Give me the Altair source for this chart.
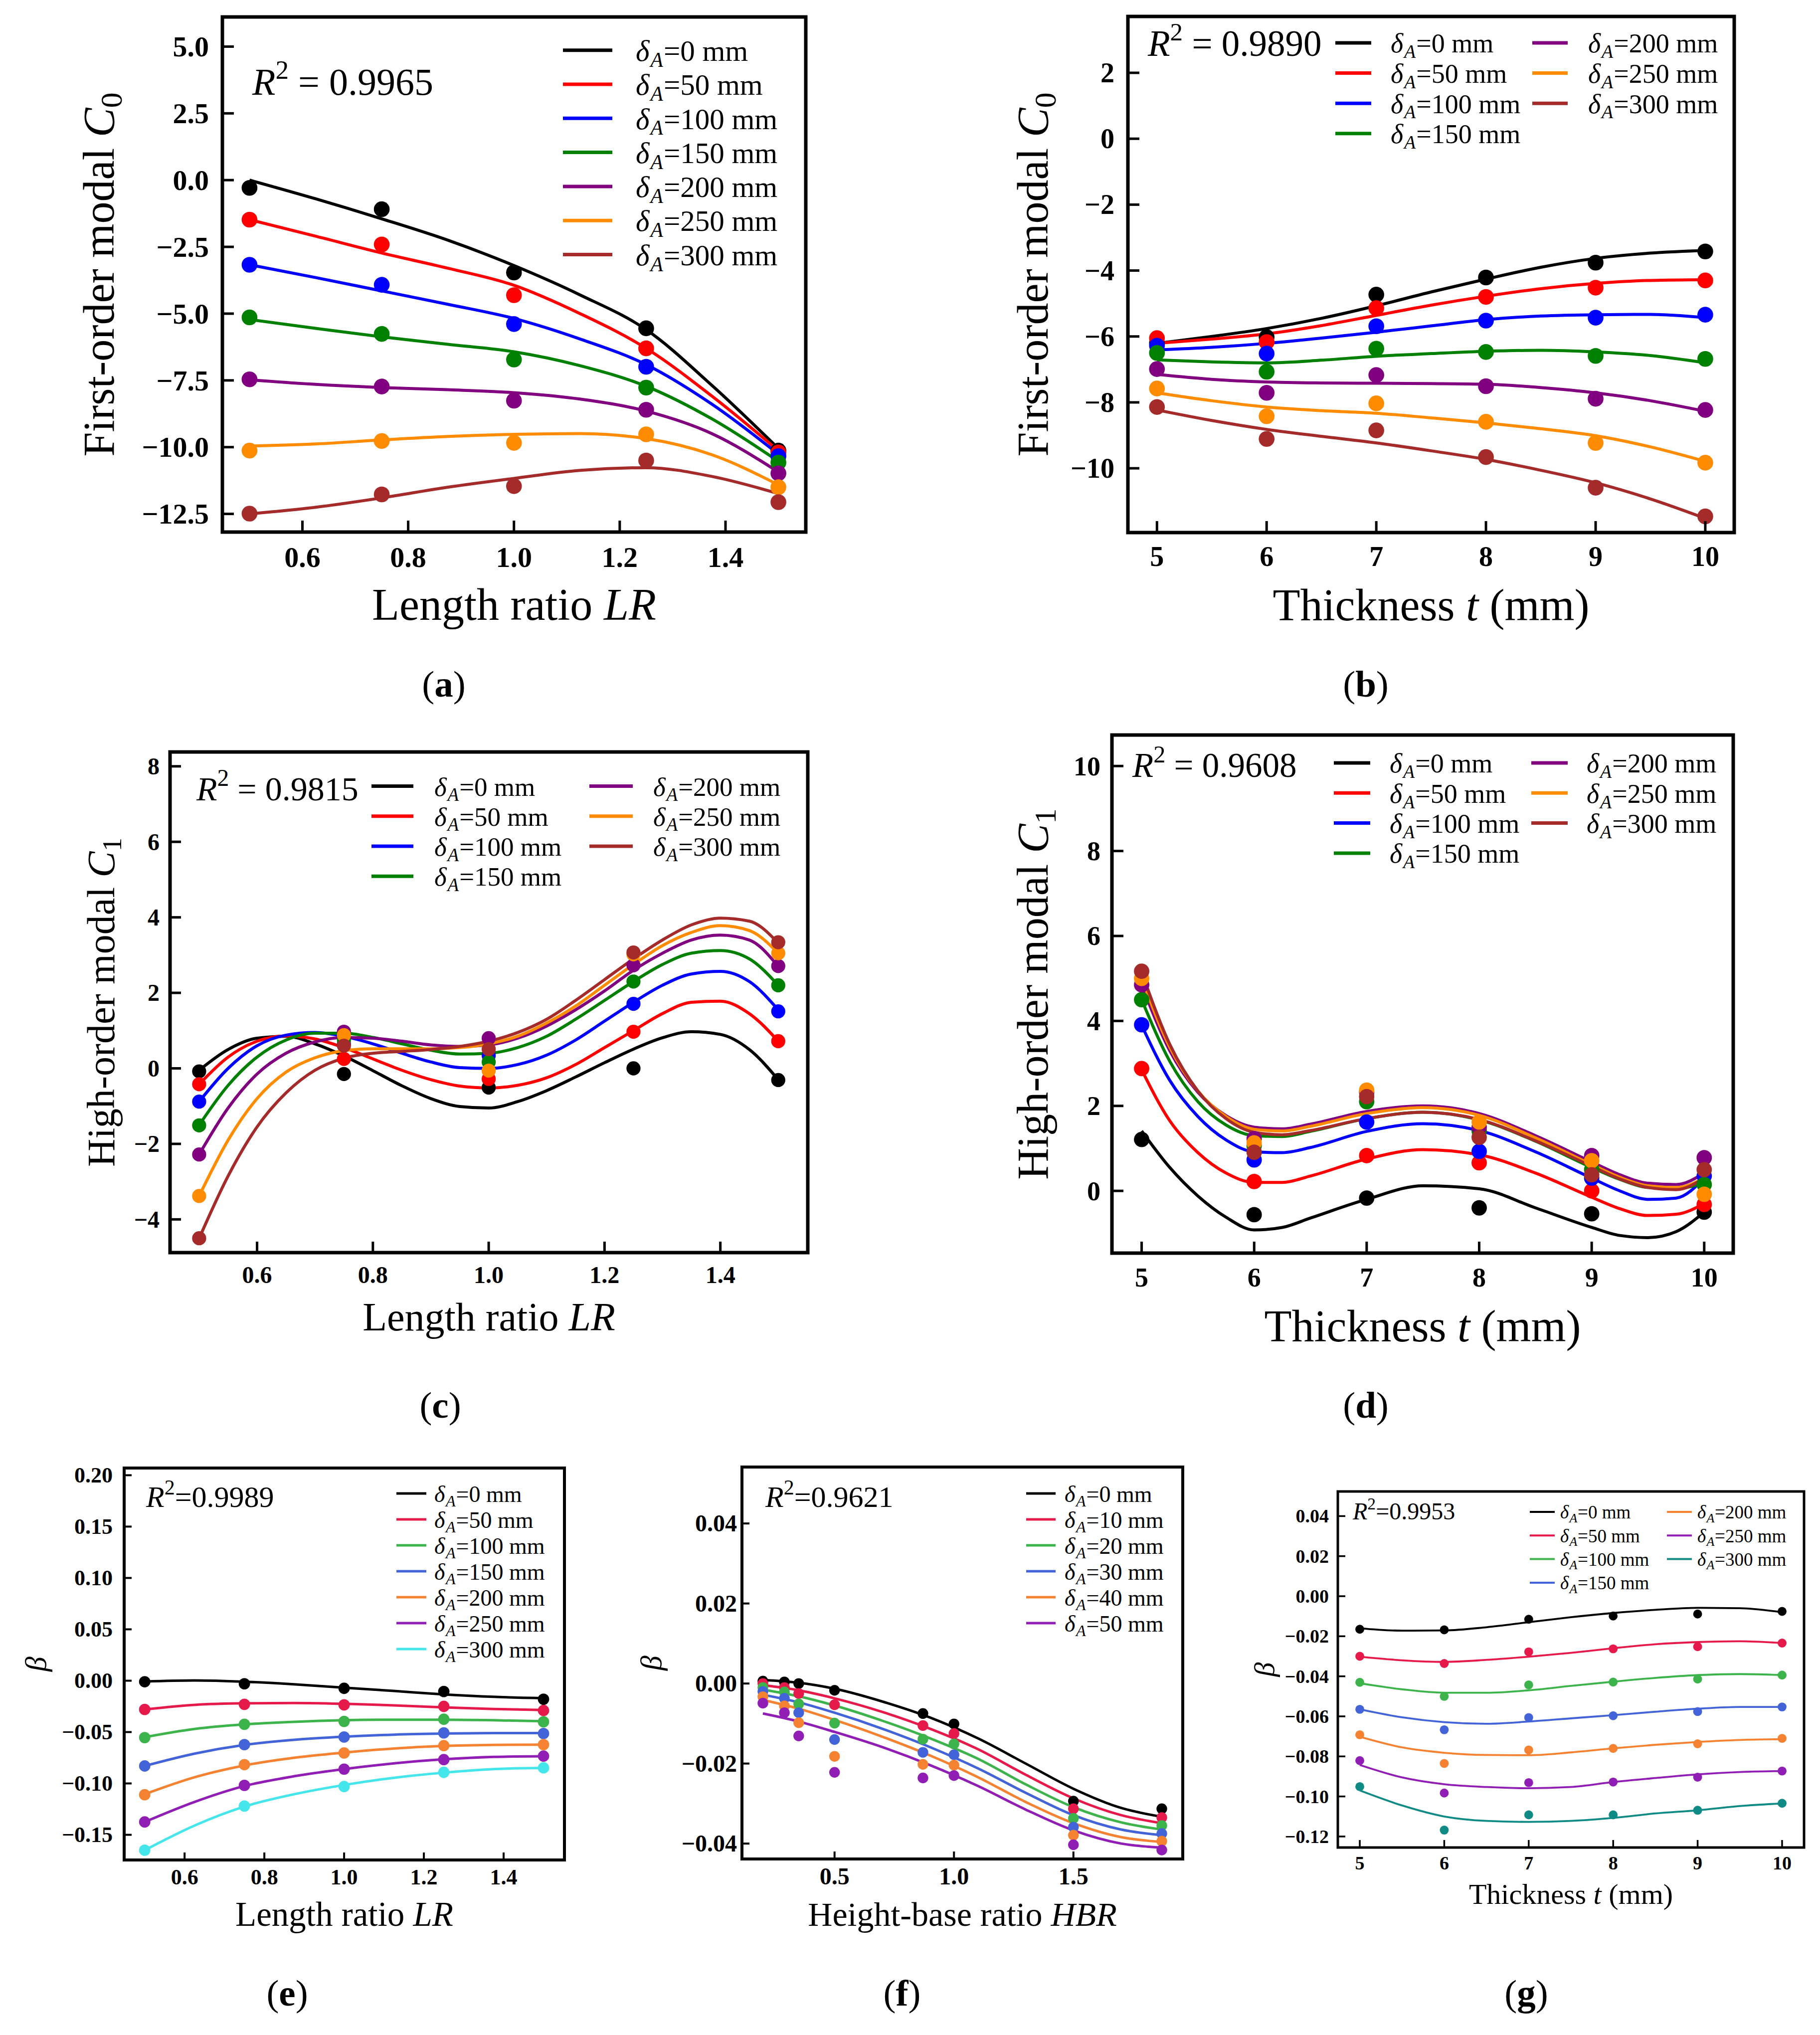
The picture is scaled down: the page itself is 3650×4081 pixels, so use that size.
import altair as alt
import pandas as pd

FONT = "Liberation Serif"
OFF = 8
W_TOT, H_TOT = 3630, 4062

# ---------------- series names / colours ----------------
DELTA_A = ["0", "50", "100", "150", "200", "250", "300"]
DELTA_HBR = ["0", "10", "20", "30", "40", "50"]
COL_BASIC = ["#000000", "#ff0000", "#0000ff", "#008000", "#800080", "#ff8c00", "#a52a2a"]
COL_E = ["#000000", "#e6194b", "#3cb44b", "#4363d8", "#f58231", "#911eb4", "#44e6ec"]
COL_F = ["#000000", "#e6194b", "#3cb44b", "#4363d8", "#f58231", "#911eb4"]
COL_G = ["#000000", "#e6194b", "#3cb44b", "#4363d8", "#f58231", "#911eb4", "#0f8a84"]

# ---------------- (a) first-order modal C0 vs LR ----------------
A_X = [0.5, 0.75, 1.0, 1.25, 1.5]
A_PTS = [
    [-0.29, -1.09, -3.46, -5.55, -10.13],
    [-1.48, -2.41, -4.31, -6.30, -10.20],
    [-3.17, -3.92, -5.39, -6.99, -10.34],
    [-5.14, -5.76, -6.72, -7.77, -10.58],
    [-7.46, -7.73, -8.26, -8.60, -10.98],
    [-10.13, -9.77, -9.84, -9.52, -11.50],
    [-12.49, -11.77, -11.46, -10.50, -12.06],
]
A_CX = [0.5, 0.625, 0.75, 0.875, 1.0, 1.125, 1.25, 1.375, 1.5]
A_CURVES = [
    [0.0, -0.7, -1.45, -2.25, -3.2, -4.3, -5.6, -7.7, -10.05],
    [-1.48, -2.1, -2.73, -3.3, -3.94, -5.0, -6.3, -8.1, -10.13],
    [-3.17, -3.65, -4.15, -4.65, -5.18, -5.95, -6.91, -8.4, -10.26],
    [-5.22, -5.55, -5.87, -6.15, -6.43, -6.95, -7.72, -8.95, -10.53],
    [-7.48, -7.65, -7.77, -7.85, -7.96, -8.2, -8.65, -9.5, -10.93],
    [-9.96, -9.88, -9.73, -9.6, -9.52, -9.49, -9.68, -10.29, -11.41],
    [-12.5, -12.25, -11.9, -11.5, -11.17, -10.87, -10.77, -11.1, -11.74],
]
A_XTICKS = [0.6, 0.8, 1.0, 1.2, 1.4]
A_YTICKS = [5.0, 2.5, 0.0, -2.5, -5.0, -7.5, -10.0, -12.5]

# ---------------- (b) first-order modal C0 vs t ----------------
B_X = [5, 6, 7, 8, 9, 10]
B_PTS = [
    [-6.20, -6.02, -4.73, -4.21, -3.76, -3.42],
    [-6.05, -6.17, -5.14, -4.80, -4.52, -4.30],
    [-6.28, -6.52, -5.69, -5.52, -5.43, -5.34],
    [-6.50, -7.07, -6.37, -6.47, -6.59, -6.68],
    [-6.99, -7.71, -7.17, -7.51, -7.89, -8.23],
    [-7.58, -8.42, -8.03, -8.59, -9.23, -9.83],
    [-8.14, -9.11, -8.85, -9.66, -10.59, -11.46],
]
B_CX = [5, 5.5, 6, 6.5, 7, 7.5, 8, 8.5, 9, 9.5, 10]
B_CURVES = [
    [-6.21, -6.0, -5.76, -5.45, -5.07, -4.65, -4.26, -3.9, -3.63, -3.47, -3.39],
    [-6.21, -6.08, -5.92, -5.67, -5.36, -5.05, -4.78, -4.55, -4.39, -4.3, -4.28],
    [-6.41, -6.33, -6.21, -6.05, -5.87, -5.68, -5.49, -5.38, -5.34, -5.33, -5.43],
    [-6.71, -6.77, -6.8, -6.72, -6.6, -6.52, -6.45, -6.42, -6.47, -6.58, -6.8],
    [-7.15, -7.3, -7.38, -7.41, -7.42, -7.43, -7.45, -7.55, -7.71, -7.95, -8.27],
    [-7.71, -7.95, -8.14, -8.25, -8.33, -8.47, -8.62, -8.8, -9.01, -9.35, -9.79],
    [-8.23, -8.55, -8.82, -9.03, -9.23, -9.47, -9.73, -10.06, -10.44, -10.93, -11.52],
]
B_XTICKS = [5, 6, 7, 8, 9, 10]
B_YTICKS = [2, 0, -2, -4, -6, -8, -10]

# ---------------- (c) high-order modal C1 vs LR ----------------
C_X = [0.5, 0.75, 1.0, 1.25, 1.5]
C_PTS = [
    [-0.08, -0.15, -0.51, 0.0, -0.31],
    [-0.42, 0.25, -0.28, 0.97, 0.72],
    [-0.88, 0.65, 0.34, 1.71, 1.51],
    [-1.51, 0.75, 0.17, 2.30, 2.20],
    [-2.28, 0.97, 0.80, 2.73, 2.71],
    [-3.38, 0.88, -0.06, 3.02, 3.05],
    [-4.50, 0.60, 0.51, 3.07, 3.34],
]
C_CX = [0.5, 0.55, 0.6, 0.65, 0.7, 0.75, 0.8, 0.85, 0.9, 0.95, 1.0,
        1.05, 1.1, 1.15, 1.2, 1.25, 1.3, 1.35, 1.4, 1.45, 1.5]
C_CURVES = [
    [-0.05, 0.5, 0.8, 0.85, 0.65, 0.33, -0.06, -0.46, -0.8, -1.01, -1.05, -0.88, -0.59, -0.23, 0.15, 0.51, 0.81, 0.97, 0.9, 0.5, -0.3],
    [-0.42, 0.3, 0.72, 0.86, 0.78, 0.55, 0.25, -0.05, -0.3, -0.47, -0.52, -0.45, -0.25, 0.1, 0.55, 1.0, 1.45, 1.75, 1.78, 1.45, 0.72],
    [-0.88, 0.0, 0.6, 0.88, 0.95, 0.85, 0.65, 0.4, 0.17, 0.02, 0.0, 0.1, 0.35, 0.75, 1.25, 1.75, 2.2, 2.5, 2.57, 2.3, 1.55],
    [-1.5, -0.45, 0.3, 0.75, 0.93, 0.93, 0.82, 0.65, 0.48, 0.38, 0.4, 0.55, 0.85, 1.3, 1.8, 2.3, 2.75, 3.05, 3.12, 2.9, 2.2],
    [-2.28, -1.05, -0.15, 0.4, 0.7, 0.82, 0.8, 0.72, 0.62, 0.58, 0.62, 0.8, 1.12, 1.55, 2.05, 2.6, 3.05, 3.4, 3.53, 3.4, 2.7],
    [-3.38, -1.9, -0.8, -0.1, 0.28, 0.47, 0.52, 0.52, 0.52, 0.55, 0.65, 0.85, 1.2, 1.65, 2.2, 2.75, 3.25, 3.6, 3.78, 3.65, 3.05],
    [-4.5, -2.85, -1.55, -0.65, -0.05, 0.27, 0.4, 0.45, 0.5, 0.58, 0.72, 0.95, 1.3, 1.8, 2.35, 2.9, 3.4, 3.8, 3.98, 3.9, 3.32],
]
C_XTICKS = [0.6, 0.8, 1.0, 1.2, 1.4]
C_YTICKS = [8, 6, 4, 2, 0, -2, -4]

# ---------------- (d) high-order modal C1 vs t ----------------
D_X = [5, 6, 7, 8, 9, 10]
D_PTS = [
    [1.21, -0.56, -0.17, -0.40, -0.54, -0.50],
    [2.88, 0.22, 0.83, 0.66, 0.00, -0.32],
    [3.91, 0.73, 1.62, 0.93, 0.30, 0.35],
    [4.50, 1.06, 2.10, 1.41, 0.50, 0.15],
    [4.85, 1.23, 2.32, 1.50, 0.83, 0.78],
    [5.00, 1.13, 2.37, 1.62, 0.71, -0.08],
    [5.17, 0.91, 2.22, 1.26, 0.38, 0.50],
]
D_CX = [5, 5.25, 5.5, 5.75, 6, 6.25, 6.5, 7, 7.5, 8, 8.5, 9, 9.25, 9.5, 9.75, 10]
D_CURVES = [
    [1.41, 0.55, -0.12, -0.62, -0.92, -0.86, -0.64, -0.2, 0.12, 0.05, -0.4, -0.86, -1.05, -1.1, -0.96, -0.5],
    [2.85, 1.65, 0.9, 0.42, 0.2, 0.2, 0.35, 0.75, 0.97, 0.85, 0.42, -0.15, -0.42, -0.58, -0.55, -0.3],
    [3.9, 2.6, 1.75, 1.2, 0.92, 0.9, 1.02, 1.4, 1.58, 1.42, 0.92, 0.3, 0.0, -0.2, -0.17, 0.3],
    [4.5, 3.05, 2.1, 1.55, 1.3, 1.28, 1.4, 1.7, 1.85, 1.67, 1.17, 0.55, 0.27, 0.08, 0.05, 0.2],
    [4.85, 3.3, 2.32, 1.77, 1.5, 1.46, 1.57, 1.87, 2.0, 1.82, 1.3, 0.68, 0.38, 0.18, 0.15, 0.42],
    [5.0, 3.38, 2.35, 1.75, 1.45, 1.41, 1.52, 1.82, 1.96, 1.78, 1.25, 0.62, 0.32, 0.12, 0.08, 0.3],
    [5.15, 3.45, 2.35, 1.7, 1.38, 1.32, 1.42, 1.7, 1.85, 1.68, 1.18, 0.58, 0.28, 0.08, 0.03, 0.3],
]
D_XTICKS = [5, 6, 7, 8, 9, 10]
D_YTICKS = [10, 8, 6, 4, 2, 0]

# ---------------- (e) beta vs LR ----------------
E_X = [0.5, 0.75, 1.0, 1.25, 1.5]
E_PTS = [
    [-0.001, -0.003, -0.0074, -0.0105, -0.018],
    [-0.028, -0.023, -0.0235, -0.025, -0.029],
    [-0.0554, -0.0424, -0.0396, -0.0375, -0.040],
    [-0.083, -0.0622, -0.0548, -0.0508, -0.0514],
    [-0.111, -0.0817, -0.0703, -0.0632, -0.0622],
    [-0.1375, -0.1019, -0.0861, -0.0768, -0.0734],
    [-0.165, -0.122, -0.103, -0.0892, -0.0848],
]
E_CX = [0.5, 0.625, 0.75, 0.875, 1.0, 1.125, 1.25, 1.375, 1.5]
E_CURVES = [
    [-0.0008, 0.0002, -0.001, -0.0035, -0.0068, -0.010, -0.0133, -0.0157, -0.017],
    [-0.028, -0.0235, -0.022, -0.0217, -0.0225, -0.024, -0.026, -0.0275, -0.0285],
    [-0.055, -0.047, -0.0425, -0.040, -0.0385, -0.038, -0.038, -0.0385, -0.0395],
    [-0.083, -0.071, -0.0625, -0.0575, -0.0545, -0.0525, -0.0515, -0.051, -0.051],
    [-0.1105, -0.094, -0.0825, -0.075, -0.070, -0.066, -0.0635, -0.0625, -0.0622],
    [-0.1375, -0.118, -0.1025, -0.093, -0.086, -0.0805, -0.0765, -0.0742, -0.0735],
    [-0.165, -0.141, -0.1225, -0.1105, -0.1015, -0.0945, -0.0895, -0.086, -0.085],
]
E_XTICKS = [0.6, 0.8, 1.0, 1.2, 1.4]
E_YTICKS = [0.20, 0.15, 0.10, 0.05, 0.00, -0.05, -0.10, -0.15]

# ---------------- (f) beta vs HBR ----------------
F_X = [0.2, 0.29, 0.35, 0.5, 0.87, 1.0, 1.5, 1.87]
F_PTS = [
    [0.0006, 0.0004, 0.0, -0.0017, -0.0075, -0.0101, -0.0294, -0.0313],
    [0.0, -0.001, -0.0025, -0.0053, -0.0105, -0.0125, -0.0313, -0.0335],
    [-0.001, -0.0021, -0.0051, -0.0099, -0.0139, -0.0151, -0.0337, -0.0355],
    [-0.002, -0.0037, -0.0073, -0.014, -0.0172, -0.0178, -0.0359, -0.0375],
    [-0.0033, -0.0056, -0.0098, -0.0182, -0.0202, -0.0204, -0.0379, -0.0394],
    [-0.0049, -0.0073, -0.0131, -0.0222, -0.0236, -0.023, -0.0403, -0.0416],
]
F_CX = [0.2, 0.35, 0.5, 0.7, 0.9, 1.1, 1.3, 1.5, 1.7, 1.87]
F_CURVES = [
    [0.0009, 0.0002, -0.0013, -0.0045, -0.0085, -0.0137, -0.020, -0.0263, -0.0311, -0.0333],
    [-0.0004, -0.0017, -0.0037, -0.0071, -0.0113, -0.0164, -0.0228, -0.0287, -0.0329, -0.0349],
    [-0.0015, -0.0032, -0.0055, -0.0093, -0.0137, -0.0188, -0.0252, -0.0309, -0.0347, -0.0365],
    [-0.0028, -0.0047, -0.0073, -0.0113, -0.0159, -0.0212, -0.0273, -0.0329, -0.0365, -0.0379],
    [-0.0041, -0.0063, -0.0091, -0.0133, -0.018, -0.0234, -0.0296, -0.0349, -0.0384, -0.0396],
    [-0.0075, -0.0095, -0.0121, -0.0159, -0.0204, -0.0256, -0.0315, -0.0367, -0.040, -0.041],
]
F_XTICKS = [0.5, 1.0, 1.5]
F_YTICKS = [0.04, 0.02, 0.00, -0.02, -0.04]

# ---------------- (g) beta vs t ----------------
G_X = [5, 6, 7, 8, 9, 10]
G_PTS = [
    [-0.0165, -0.0168, -0.0115, -0.0099, -0.0089, -0.0076],
    [-0.0300, -0.0336, -0.0278, -0.0263, -0.0252, -0.0234],
    [-0.0430, -0.0500, -0.0443, -0.0429, -0.0414, -0.0394],
    [-0.0565, -0.0667, -0.0606, -0.0597, -0.0576, -0.0553],
    [-0.0692, -0.0835, -0.0768, -0.0760, -0.0737, -0.0710],
    [-0.0821, -0.0983, -0.0931, -0.0928, -0.0904, -0.0873],
    [-0.0951, -0.1168, -0.1092, -0.1092, -0.1069, -0.1034],
]
G_CX = [5, 5.5, 6, 6.5, 7, 7.5, 8, 8.5, 9, 9.5, 10]
G_CURVES = [
    [-0.016, -0.0172, -0.0171, -0.0155, -0.013, -0.0105, -0.0084, -0.0068, -0.0058, -0.006, -0.008],
    [-0.0302, -0.032, -0.0328, -0.0318, -0.0302, -0.0283, -0.026, -0.024, -0.0229, -0.0225, -0.0234],
    [-0.0435, -0.0465, -0.0482, -0.0482, -0.047, -0.0448, -0.0427, -0.0408, -0.0394, -0.0389, -0.0394],
    [-0.0565, -0.0605, -0.0629, -0.0637, -0.0626, -0.061, -0.0594, -0.0577, -0.0562, -0.0553, -0.0553],
    [-0.0702, -0.0755, -0.0782, -0.0793, -0.0794, -0.078, -0.076, -0.0742, -0.0728, -0.0718, -0.0714],
    [-0.0843, -0.0905, -0.0939, -0.0953, -0.0959, -0.0953, -0.0928, -0.0908, -0.089, -0.0878, -0.0873],
    [-0.097, -0.1045, -0.110, -0.1122, -0.1127, -0.1122, -0.1107, -0.1085, -0.1069, -0.1048, -0.1035],
]
G_XTICKS = [5, 6, 7, 8, 9, 10]
G_YTICKS = [0.04, 0.02, 0.00, -0.02, -0.04, -0.06, -0.08, -0.10, -0.12]

R2_TEXT = ["0.9965", "0.9890", "0.9815", "0.9608", "0.9989", "0.9621", "0.9953"]

# ---------------- text helpers ----------------
REG = {' ': .25, '(': .333, ')': .333, '-': .333, '.': .25, '=': .564, 'F': .556, 'H': .722,
       'L': .611, 'T': .611, 'a': .444, 'b': .5, 'c': .444, 'd': .5, 'e': .444, 'g': .5,
       'h': .5, 'i': .278, 'k': .5, 'l': .278, 'm': .778, 'n': .5, 'o': .5, 'r': .333,
       's': .389, 't': .278}
ITA = {'C': .667, 'L': .556, 'R': .611, 't': .278, 'H': .722, 'B': .611, 'A': .611,
       'δ': .5, 'β': .5}
BLD = {'(': .333, ')': .333, 'a': .5, 'b': .556, 'c': .444, 'd': .556, 'e': .444,
       'f': .333, 'g': .5}


def em(s, style="normal", weight="normal"):
    tab = ITA if style == "italic" else (BLD if weight == "bold" else REG)
    return sum(tab.get(ch, REG.get(ch, 0.5)) for ch in s)


ONE = pd.DataFrame({"k": [0]})


def piece(x, y, s, size, dx=0.0, dy=0.0, style="normal", weight="normal", angle=0):
    props = dict(text=s, font=FONT, fontSize=size, fontStyle=style, fontWeight=weight,
                 align="left", baseline="alphabetic", color="black")
    if dx:
        props["dx"] = dx
    if dy:
        props["dy"] = dy
    if angle:
        props["angle"] = angle
    return alt.Chart(ONE).mark_text(**props).encode(x=alt.value(x - OFF), y=alt.value(y - OFF))


def rich(x, y, parts, anchor="center", angle=0):
    widths = [em(t, st, wt) * sz for (t, sz, st, wt, sh) in parts]
    off = -sum(widths) / 2 if anchor == "center" else 0.0
    out = []
    for (t, sz, st, wt, sh), w in zip(parts, widths):
        body = t.lstrip(" ")
        lead = (len(t) - len(body)) * REG[" "] * sz
        out.append(piece(x, y, body.rstrip(" "), sz, dx=off + lead, dy=sh,
                         style=st, weight=wt, angle=angle))
        off += w
    return out


def long_df(xs, rows, names):
    recs = []
    for name, row in zip(names, rows):
        for xv, yv in zip(xs, row):
            recs.append({"x": xv, "y": yv, "s": name})
    return pd.DataFrame(recs)


def tick_text(vals, fmt):
    out = []
    for v in vals:
        s = format(float(v), fmt)
        if float(s) == 0:
            s = s.lstrip("-")
        out.append(s.replace("-", "\u2212"))
    return out


def xtitle_parts(kind, s):
    if kind == "LR":
        return [("Length ratio ", s, "normal", "normal", 0), ("LR", s, "italic", "normal", 0)]
    if kind == "t":
        return [("Thickness ", s, "normal", "normal", 0), ("t", s, "italic", "normal", 0),
                (" (mm)", s, "normal", "normal", 0)]
    return [("Height-base ratio ", s, "normal", "normal", 0), ("HBR", s, "italic", "normal", 0)]


def ytitle_parts(kind, s):
    if kind == "C0":
        return [("First-order modal ", s, "normal", "normal", 0), ("C", s, "italic", "normal", 0),
                ("0", 0.7 * s, "normal", "normal", 0.18 * s)]
    if kind == "C1":
        return [("High-order modal ", s, "normal", "normal", 0), ("C", s, "italic", "normal", 0),
                ("1", 0.7 * s, "normal", "normal", 0.18 * s)]
    return [("β", s, "italic", "normal", 0)]


def panel(c):
    L, R, T, B = c["box"]
    sx = alt.Scale(domain=c["xdom"], range=[L - OFF, R - OFF], nice=False, zero=False)
    sy = alt.Scale(domain=c["ydom"], range=[B - OFF, T - OFF], nice=False, zero=False)
    cs = alt.Scale(domain=c["names"], range=c["colors"])
    col = alt.Color("s:N", scale=cs, legend=None)
    tf = c["tf"]
    layers = []
    layers.append(alt.Chart(long_df(c["cx"], c["curves"], c["names"])).mark_line(
        strokeWidth=c["lw"], interpolate="monotone").encode(
        x=alt.X("x:Q", scale=sx, axis=None), y=alt.Y("y:Q", scale=sy, axis=None), color=col))
    layers.append(alt.Chart(long_df(c["px"], c["pts"], c["names"])).mark_circle(
        size=c["ps"], opacity=1).encode(
        x=alt.X("x:Q", scale=sx, axis=None), y=alt.Y("y:Q", scale=sy, axis=None), color=col))
    # frame
    layers.append(alt.Chart(ONE).mark_rect(fillOpacity=0, stroke="black", strokeWidth=c["fw"]).encode(
        x=alt.value(L - OFF), x2=alt.value(R - OFF), y=alt.value(T - OFF), y2=alt.value(B - OFF)))
    # inward ticks
    xt_df = pd.DataFrame({"v": c["xticks"], "lab": tick_text(c["xticks"], c["xfmt"])})
    yt_df = pd.DataFrame({"v": c["yticks"], "lab": tick_text(c["yticks"], c["yfmt"])})
    layers.append(alt.Chart(xt_df).mark_rule(color="black", strokeWidth=c["tw"]).encode(
        x=alt.X("v:Q", scale=sx, axis=None), y=alt.value(B - OFF), y2=alt.value(B - OFF - c["tl"])))
    layers.append(alt.Chart(yt_df).mark_rule(color="black", strokeWidth=c["tw"]).encode(
        y=alt.Y("v:Q", scale=sy, axis=None), x=alt.value(L - OFF), x2=alt.value(L - OFF + c["tl"])))
    # tick labels
    layers.append(alt.Chart(xt_df).mark_text(font=FONT, fontSize=tf, fontWeight="bold", color="black",
                                             align="center", baseline="alphabetic").encode(
        x=alt.X("v:Q", scale=sx, axis=None), y=alt.value(c["xly"] - OFF), text="lab:N"))
    layers.append(alt.Chart(yt_df).mark_text(font=FONT, fontSize=tf, fontWeight="bold", color="black",
                                             align="right", baseline="alphabetic", dy=0.34 * tf).encode(
        y=alt.Y("v:Q", scale=sy, axis=None), x=alt.value(c["ylx"] - OFF), text="lab:N"))
    # legend
    lg = c["legend"]
    ls = lg["size"]
    rows = []
    for i, name in enumerate(c["names"]):
        cc, rr = i // lg["nrow"], i % lg["nrow"]
        x1, x2, tx = lg["cols"][cc]
        yy = lg["y0"] + rr * lg["dy"]
        rows.append(dict(s=name, x1=x1 - OFF, x2=x2 - OFF, y=yy - OFF, tx=tx - OFF,
                         ty=yy - OFF + 0.36 * ls, lab="=" + name + " mm"))
    ldf = pd.DataFrame(rows)
    layers.append(alt.Chart(ldf).mark_rule(strokeWidth=lg["lw"]).encode(
        x=alt.X("x1:Q", scale=None, axis=None), x2="x2:Q",
        y=alt.Y("y:Q", scale=None, axis=None), color=col))
    wd = em("δ", "italic") * ls
    wa = em("A", "italic") * 0.7 * ls
    base = dict(font=FONT, align="left", baseline="alphabetic", color="black")
    enc = dict(x=alt.X("tx:Q", scale=None, axis=None), y=alt.Y("ty:Q", scale=None, axis=None))
    layers.append(alt.Chart(ldf).mark_text(text="δ", fontSize=ls, fontStyle="italic", **base).encode(**enc))
    layers.append(alt.Chart(ldf).mark_text(text="A", fontSize=0.7 * ls, fontStyle="italic",
                                           dx=wd, dy=0.2 * ls, **base).encode(**enc))
    layers.append(alt.Chart(ldf).mark_text(fontSize=ls, dx=wd + wa + 0.02 * ls, **base).encode(
        text="lab:N", **enc))
    # R^2
    rs = c["r2size"]
    rest = (" = " if c["r2space"] else "=") + c["r2"]
    layers += rich(c["r2x"], c["r2y"], [("R", rs, "italic", "normal", 0),
                                        ("2", 0.7 * rs, "normal", "normal", -0.42 * rs),
                                        (rest, rs, "normal", "normal", 0)], anchor="left")
    # axis titles
    layers += rich((L + R) / 2, c["xty"], xtitle_parts(c["xkind"], c["xts"]))
    layers += rich(c["ytx"], (T + B) / 2, ytitle_parts(c["ykind"], c["yts"]), angle=270)
    # panel letter
    layers += rich(c["lx"], c["ly"], [("(", 75, "normal", "normal", 0),
                                      (c["letter"], 75, "normal", "bold", 0),
                                      (")", 75, "normal", "normal", 0)])
    return alt.layer(*layers)


PANELS = [
    dict(box=(446, 1616, 34, 1067), xdom=[0.4487, 1.5518], ydom=[-13.18, 6.11],
         xticks=A_XTICKS, yticks=A_YTICKS, xfmt=".1f", yfmt=".1f", tf=58, xly=1137, ylx=419,
         tl=23, tw=5, fw=7, lw=6, ps=1000, names=DELTA_A, colors=COL_BASIC,
         px=A_X, pts=A_PTS, cx=A_CX, curves=A_CURVES,
         legend=dict(nrow=7, cols=[(1129, 1228, 1275)], y0=100.7, dy=68.3, size=59, lw=7),
         r2=R2_TEXT[0], r2x=506, r2y=190, r2size=76, r2space=True,
         xkind="LR", xts=90, xty=1243, ykind="C0", yts=88, ytx=228,
         letter="a", lx=890, ly=1397),
    dict(box=(2262, 3478, 33, 1068), xdom=[4.735, 10.264], ydom=[-11.95, 3.71],
         xticks=B_XTICKS, yticks=B_YTICKS, xfmt=".0f", yfmt=".0f", tf=56, xly=1135, ylx=2235,
         tl=23, tw=5, fw=7, lw=6, ps=1000, names=DELTA_A, colors=COL_BASIC,
         px=B_X, pts=B_PTS, cx=B_CX, curves=B_CURVES,
         legend=dict(nrow=4, cols=[(2678, 2750, 2789), (3073, 3144, 3185)], y0=86, dy=60.6,
                     size=54, lw=7),
         r2=R2_TEXT[1], r2x=2302, r2y=112, r2size=73, r2space=True,
         xkind="t", xts=90, xty=1244, ykind="C0", yts=88, ytx=2101,
         letter="b", lx=2739, ly=1397),
    dict(box=(341, 1620, 1508, 2512), xdom=[0.4497, 1.551], ydom=[-4.88, 8.38],
         xticks=C_XTICKS, yticks=C_YTICKS, xfmt=".1f", yfmt=".0f", tf=48, xly=2573, ylx=320,
         tl=22, tw=5, fw=7, lw=6, ps=800, names=DELTA_A, colors=COL_BASIC,
         px=C_X, pts=C_PTS, cx=C_CX, curves=C_CURVES,
         legend=dict(nrow=4, cols=[(745, 829, 871), (1182, 1269, 1310)], y0=1576.6, dy=60.2,
                     size=53, lw=7),
         r2=R2_TEXT[2], r2x=394, r2y=1605, r2size=68, r2space=True,
         xkind="LR", xts=80, xty=2668, ykind="C1", yts=78, ytx=229,
         letter="c", lx=883, ly=2843),
    dict(box=(2230, 3476, 1474, 2513), xdom=[4.736, 10.258], ydom=[-1.465, 10.73],
         xticks=D_XTICKS, yticks=D_YTICKS, xfmt=".0f", yfmt=".0f", tf=54, xly=2580, ylx=2207,
         tl=23, tw=5, fw=7, lw=6, ps=950, names=DELTA_A, colors=COL_BASIC,
         px=D_X, pts=D_PTS, cx=D_CX, curves=D_CURVES,
         legend=dict(nrow=4, cols=[(2675, 2748, 2787), (3071, 3144, 3182)], y0=1530, dy=60.3,
                     size=54, lw=7),
         r2=R2_TEXT[3], r2x=2271, r2y=1558, r2size=69, r2space=True,
         xkind="t", xts=90, xty=2690, ykind="C1", yts=88, ytx=2101,
         letter="d", lx=2739, ly=2843),
    dict(box=(249, 1132, 2944, 3730), xdom=[0.4485, 1.5525], ydom=[-0.1745, 0.207],
         xticks=E_XTICKS, yticks=E_YTICKS, xfmt=".1f", yfmt=".2f", tf=44, xly=3779, ylx=226,
         tl=15, tw=4, fw=6, lw=5, ps=520, names=DELTA_A, colors=COL_E,
         px=E_X, pts=E_PTS, cx=E_CX, curves=E_CURVES,
         legend=dict(nrow=7, cols=[(795, 855, 871)], y0=2995, dy=52, size=46, lw=5),
         r2=R2_TEXT[4], r2x=293, r2y=3022, r2size=60, r2space=False,
         xkind="LR", xts=69, xty=3862, ykind="beta", yts=60, ytx=92,
         letter="e", lx=576, ly=4022),
    dict(box=(1488, 2372, 2942, 3728), xdom=[0.1124, 1.9577], ydom=[-0.04385, 0.0541],
         xticks=F_XTICKS, yticks=F_YTICKS, xfmt=".1f", yfmt=".2f", tf=48, xly=3779, ylx=1478,
         tl=15, tw=4, fw=6, lw=5, ps=460, names=DELTA_HBR, colors=COL_F,
         px=F_X, pts=F_PTS, cx=F_CX, curves=F_CURVES,
         legend=dict(nrow=6, cols=[(2058, 2117, 2135)], y0=2995, dy=52, size=46, lw=5),
         r2=R2_TEXT[5], r2x=1535, r2y=3022, r2size=60, r2space=False,
         xkind="HBR", xts=68, xty=3862, ykind="beta", yts=60, ytx=1326,
         letter="f", lx=1809, ly=4022),
    dict(box=(2683, 3618, 2991, 3705), xdom=[4.74, 10.26], ydom=[-0.1255, 0.0523],
         xticks=G_XTICKS, yticks=G_YTICKS, xfmt=".0f", yfmt=".2f", tf=38, xly=3749, ylx=2665,
         tl=15, tw=3.5, fw=5, lw=3.8, ps=320, names=DELTA_A, colors=COL_G,
         px=G_X, pts=G_PTS, cx=G_CX, curves=G_CURVES,
         legend=dict(nrow=4, cols=[(3068, 3118, 3129), (3343, 3393, 3404)], y0=3032, dy=47.3,
                     size=37, lw=4),
         r2=R2_TEXT[6], r2x=2713, r2y=3047, r2size=48, r2space=False,
         xkind="t", xts=58, xty=3818, ykind="beta", yts=58, ytx=2555,
         letter="g", lx=3061, ly=4022),
]

chart = alt.layer(*[panel(p) for p in PANELS]).resolve_scale(
    x="independent", y="independent", color="independent"
).properties(
    width=W_TOT, height=H_TOT, padding=0, autosize=alt.AutoSizeParams(type="none")
).configure_view(strokeWidth=0)

chart.save("out.html", embed_options={"renderer": "svg", "actions": False})
